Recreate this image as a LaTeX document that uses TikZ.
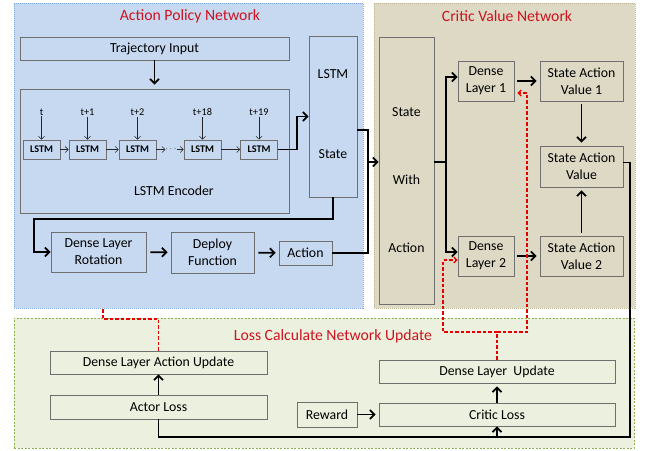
\documentclass[tikz,border=0pt]{standalone}
\usepackage{fontspec}
\setmainfont{Carlito}
\usepackage{xcolor}
\usetikzlibrary{arrows.meta}
\usetikzlibrary{positioning}
\definecolor{policyfill}{HTML}{C6D9F1}
\definecolor{policyline}{HTML}{7FA8DC}
\definecolor{criticfill}{HTML}{DDD9C4}
\definecolor{criticline}{HTML}{BDB58C}
\definecolor{lossfill}{HTML}{EBF1DE}
\definecolor{lossline}{HTML}{8FB04C}
\definecolor{boxgray}{HTML}{6F6F6F}
\definecolor{titlered}{HTML}{CC1420}
\newcommand{\bxfont}{\fontsize{13.8}{17}\selectfont}
\newcommand{\cellfont}{\fontsize{10.2}{12}\selectfont\bfseries}
\newcommand{\tifont}{\fontsize{15.7}{18}\selectfont}
\tikzset{x=1pt, y=-1pt,
         panel/.style={inner sep=0pt, line width=1pt}, % The three coloured regions
         box/.style={draw=boxgray, line width=0.8pt, inner sep=0pt,
           align=center, font=\bxfont},
         cell/.style={box, minimum width=37, minimum height=19, font=\cellfont},
         tlabel/.style={inner sep=1pt, font=\fontsize{10.3}{12}\selectfont},
         title/.style={text=titlered, font=\tifont},
         arrow/.style={-{Straight Barb[length=4.5pt,width=9pt]}, line width=1.7pt},
         thickline/.style={line width=1.7pt},
         thinarrow/.style={-{Straight Barb[length=3pt,width=6pt]}, line width=0.6pt, draw=black!85},
         redline/.style={draw=red!90!black, line width=1.2pt, dash pattern=on 3.5pt off 2pt},
         redarrow/.style={redline, -{Straight Barb[length=3pt,width=6pt]}}}

\begin{document}
\begin{tikzpicture}
      \useasboundingbox (0,0) rectangle (648,450);

      % regions
      \node[panel, fill=policyfill, draw=policyline, dash pattern=on 1pt off 1pt,
            minimum width=349, minimum height=305] (policy) at (188.5,155.5) {};
      \node[panel, fill=criticfill, draw=criticline, dash pattern=on 1pt off 1pt,
            minimum width=261, minimum height=305] (critic) at (504.5,155.5) {};
      \node[panel, fill=lossfill, draw=lossline, dash pattern=on 2pt off 1.5pt,
            minimum width=620, minimum height=130] (loss) at (324,383) {};
      \node[title] (ptitle) at (190,16) {Action Policy Network};
      \node[title] (ctitle) at (507,16) {Critic Value Network};
      \node[title] (ltitle) at (333,336) {Loss Calculate Network Update};

      % action policy network
      \node[box, minimum width=269, minimum height=23] (traj) at (154.5,48.5) {Trajectory Input};
      \node[box, minimum width=269, minimum height=124] (enc) at (154.5,151) {};
      \node[font=\bxfont] (enclabel) at (174,191) {LSTM Encoder};
      \node[cell] (c1) at (41.5,149.5) {LSTM};
      \node[cell] (c2) at (87.5,149.5) {LSTM};
      \node[cell] (c3) at (137.5,149.5) {LSTM};
      \node[cell] (c4) at (202.5,149.5) {LSTM};
      \node[cell] (c5) at (259,149.5) {LSTM};
      \node[inner sep=0pt, font=\small] (dots) at (171,149.5) {$\cdots$};
      \node[tlabel] (t1) at (41.5,112) {t};
      \node[tlabel] (t2) at (87.5,112) {t+1};
      \node[tlabel] (t3) at (137.5,112) {t+2};
      \node[tlabel] (t4) at (202.5,112) {t+18};
      \node[tlabel] (t5) at (259,112) {t+19};
      \node[box, minimum width=48, minimum height=161] (lstate) at (333,116.5) {};
      \node[font=\bxfont] (lstatea) at (333,74) {LSTM};
      \node[font=\bxfont] (lstateb) at (333,154) {State};
      \node[box, minimum width=95, minimum height=40] (dlrot) at (98.5,252) {Dense Layer\\Rotation};
      \node[box, minimum width=83, minimum height=41] (deploy) at (212.5,252.5) {Deploy\\Function};
      \node[box, minimum width=53, minimum height=24] (action) at (305.5,253) {Action};

      % critic value network
      \node[box, minimum width=55, minimum height=267] (swa) at (406.5,170.5) {};
      \node[font=\bxfont] (swaa) at (406.5,112) {State};
      \node[font=\bxfont] (swab) at (406.5,180) {With};
      \node[font=\bxfont] (swac) at (406.5,248) {Action};
      \node[box, minimum width=56, minimum height=40] (dl1) at (486,81) {Dense\\Layer 1};
      \node[box, minimum width=56, minimum height=40] (dl2) at (486,256) {Dense\\Layer 2};
      \node[box, minimum width=83, minimum height=40] (sav1) at (581.5,81) {State Action\\Value 1};
      \node[box, minimum width=83, minimum height=41] (sav) at (581.5,166.5) {State Action\\Value};
      \node[box, minimum width=83, minimum height=40] (sav2) at (581.5,256) {State Action\\Value 2};

      % loss calculate network update
      \node[box, minimum width=217, minimum height=23] (dlau) at (158.5,362.5) {Dense Layer Action Update};
      \node[box, minimum width=217, minimum height=24] (aloss) at (158.5,407) {Actor Loss};
      \node[box, minimum width=236, minimum height=23] (dlu) at (497,371.5) {Dense Layer\ \ Update};
      \node[box, minimum width=236, minimum height=23] (closs) at (497,414.5) {Critic Loss};
      \node[box, minimum width=60, minimum height=25] (reward) at (327,414.5) {Reward};

      \coordinate (bus) at (368,130);
      \coordinate (split) at (446,162);
      \coordinate (rbus) at (630,437);
      \coordinate (abend) at (103,319);
      \coordinate (cbus) at (497,332);
      \coordinate (cl) at (443,332);
      \coordinate (cr) at (527,332);

      % encoder
      \draw[arrow, shorten >=4pt] (traj) -- (enc);
      \draw[thinarrow] (t1) -- (c1);
      \draw[thinarrow] (t2) -- (c2);
      \draw[thinarrow] (t3) -- (c3);
      \draw[thinarrow] (t4) -- (c4);
      \draw[thinarrow] (t5) -- (c5);
      \draw[thinarrow] (c1) -- (c2);
      \draw[thinarrow] (c2) -- (c3);
      \draw[thinarrow] (c3) -- (dots);
      \draw[thinarrow] (dots) -- (c4);
      \draw[thinarrow] (c4) -- (c5);
      \draw[arrow] (c5.east) -- ++(19,0) |- (lstate.west);

      % policy head
      \draw[arrow] (lstate.south) |- (34,219) |- (dlrot.west);
      \draw[arrow, shorten <=4pt, shorten >=3pt] (dlrot) -- (deploy);
      \draw[arrow, shorten <=4pt, shorten >=3pt] (deploy) -- (action);
      \draw[thickline] (action.east) -| (bus) -- (bus -| lstate.east);
      \draw[arrow] (bus |- split) -- (swa.west |- split);

      % critic
      \draw[thickline] (swa.east |- split) -- (split);
      \draw[arrow] (split) |- ([yshift=4pt]dl1.west);
      \draw[arrow] (split) |- ([yshift=4pt]dl2.west);
      \draw[arrow, shorten <=3pt, shorten >=3pt] (dl1) -- (sav1);
      \draw[arrow, shorten <=3pt, shorten >=3pt] (dl2) -- (sav2);
      \draw[arrow, shorten <=3pt, shorten >=3pt] (sav1) -- (sav);
      \draw[arrow, shorten <=3pt, shorten >=3pt] (sav2) -- (sav);

      % losses
      \draw[thickline] ([yshift=4pt]sav.east) -| (rbus) -| (aloss.south);
      \draw[arrow] (closs.south |- rbus) -- (closs.south);
      \draw[arrow] (aloss) -- (dlau);
      \draw[arrow, shorten >=3pt] (closs) -- (dlu);
      \draw[arrow, shorten >=3pt] (reward) -- (closs);

      % updates
      \draw[redline] (dlau.north) |- (abend) -- (abend |- policy.south);
      \draw[redline] (dlu.north) -- (cbus);
      \draw[redarrow] (cbus) -- (cl) |- ([yshift=-4pt]dl2.west);
      \draw[redarrow, shorten >=3pt] (cbus) -- (cr) |- ([yshift=-12pt]dl1.east);

    \end{tikzpicture}
\end{document}
